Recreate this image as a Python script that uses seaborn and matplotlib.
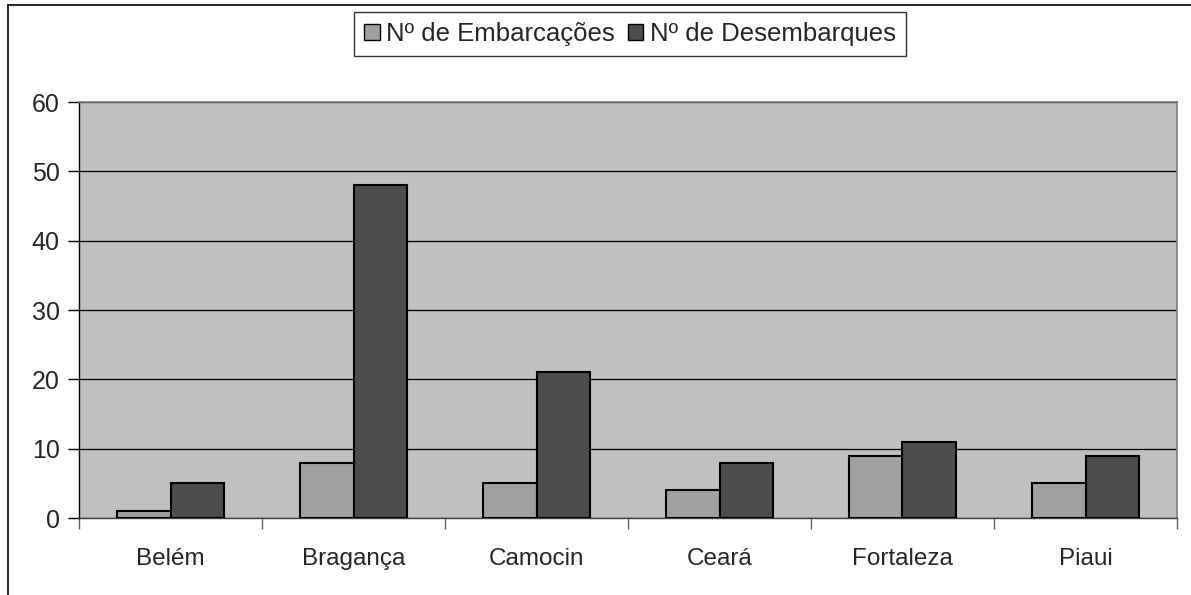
import pandas as pd
import matplotlib
matplotlib.use("Agg")
import matplotlib.pyplot as plt
import seaborn as sns
from matplotlib.patches import Rectangle
from matplotlib.lines import Line2D

locais = ["Belém", "Bragança", "Camocin", "Ceará", "Fortaleza", "Piaui"]
embarcacoes = [1, 8, 5, 4, 9, 5]
desembarques = [5, 48, 21, 8, 11, 9]
series = ["Nº de Embarcações", "Nº de Desembarques"]

df = pd.DataFrame({
    "Local": locais * 2,
    "Serie": [series[0]] * len(locais) + [series[1]] * len(locais),
    "Valor": embarcacoes + desembarques,
})

sns.set_style("white")
plt.rcParams["font.family"] = ["Liberation Sans", "DejaVu Sans"]

fig = plt.figure(figsize=(11.91, 5.95), dpi=100)
ax = fig.add_axes([79 / 1191, 1 - 518 / 595, (1177 - 79) / 1191, (518 - 102) / 595])

cores = {series[0]: "#A0A0A0", series[1]: "#4D4D4D"}
sns.barplot(data=df, x="Local", y="Valor", hue="Serie", palette=cores,
            width=0.58, edgecolor="black", linewidth=1.5, ax=ax, legend=False,
            zorder=3)

ax.set_facecolor("#C0C0C0")
ax.set_ylim(0, 60)
ax.set_yticks(range(0, 61, 10))
ax.set_xlim(-0.5, len(locais) - 0.5)
ax.yaxis.grid(True, color="black", linewidth=0.9, zorder=0)
ax.set_axisbelow(True)
ax.set_xlabel("")
ax.set_ylabel("")

for s in ["top", "right"]:
    ax.spines[s].set_color("#808080")
    ax.spines[s].set_linewidth(1.2)
ax.spines["left"].set_color("black")
ax.spines["bottom"].set_color("#404040")
ax.spines["left"].set_linewidth(1)
ax.spines["bottom"].set_linewidth(1)

ax.tick_params(axis="y", which="major", left=True, length=8, width=1, color="black",
               labelsize=18, pad=6)
ax.tick_params(axis="x", which="major", bottom=False, labelsize=17.5, pad=18)
ax.set_xticks([i + 0.5 for i in range(-1, len(locais))], minor=True)
ax.tick_params(axis="x", which="minor", bottom=True, length=8, width=1, color="#606060")

handles = [Rectangle((0, 0), 1, 1, facecolor=cores[s], edgecolor="black", linewidth=1)
           for s in series]
leg = fig.legend(handles, series, ncol=2, loc="center",
                 bbox_to_anchor=(630 / 1191, 1 - 34 / 595), frameon=True,
                 fontsize=18.5, handlelength=0.6, handleheight=0.6, handletextpad=0.25,
                 columnspacing=0.5, borderpad=0.4, borderaxespad=0, fancybox=False)
leg.get_frame().set_edgecolor("black")
leg.get_frame().set_linewidth(1)

# moldura do grafico (esquerda e topo)
fig.add_artist(Line2D([8 / 1191, 8 / 1191], [0, 1 - 5 / 595],
                      transform=fig.transFigure, color="black", linewidth=1.2))
fig.add_artist(Line2D([8 / 1191, 1], [1 - 5 / 595, 1 - 5 / 595],
                      transform=fig.transFigure, color="black", linewidth=1.2))

fig.savefig("out.png", dpi=100)
